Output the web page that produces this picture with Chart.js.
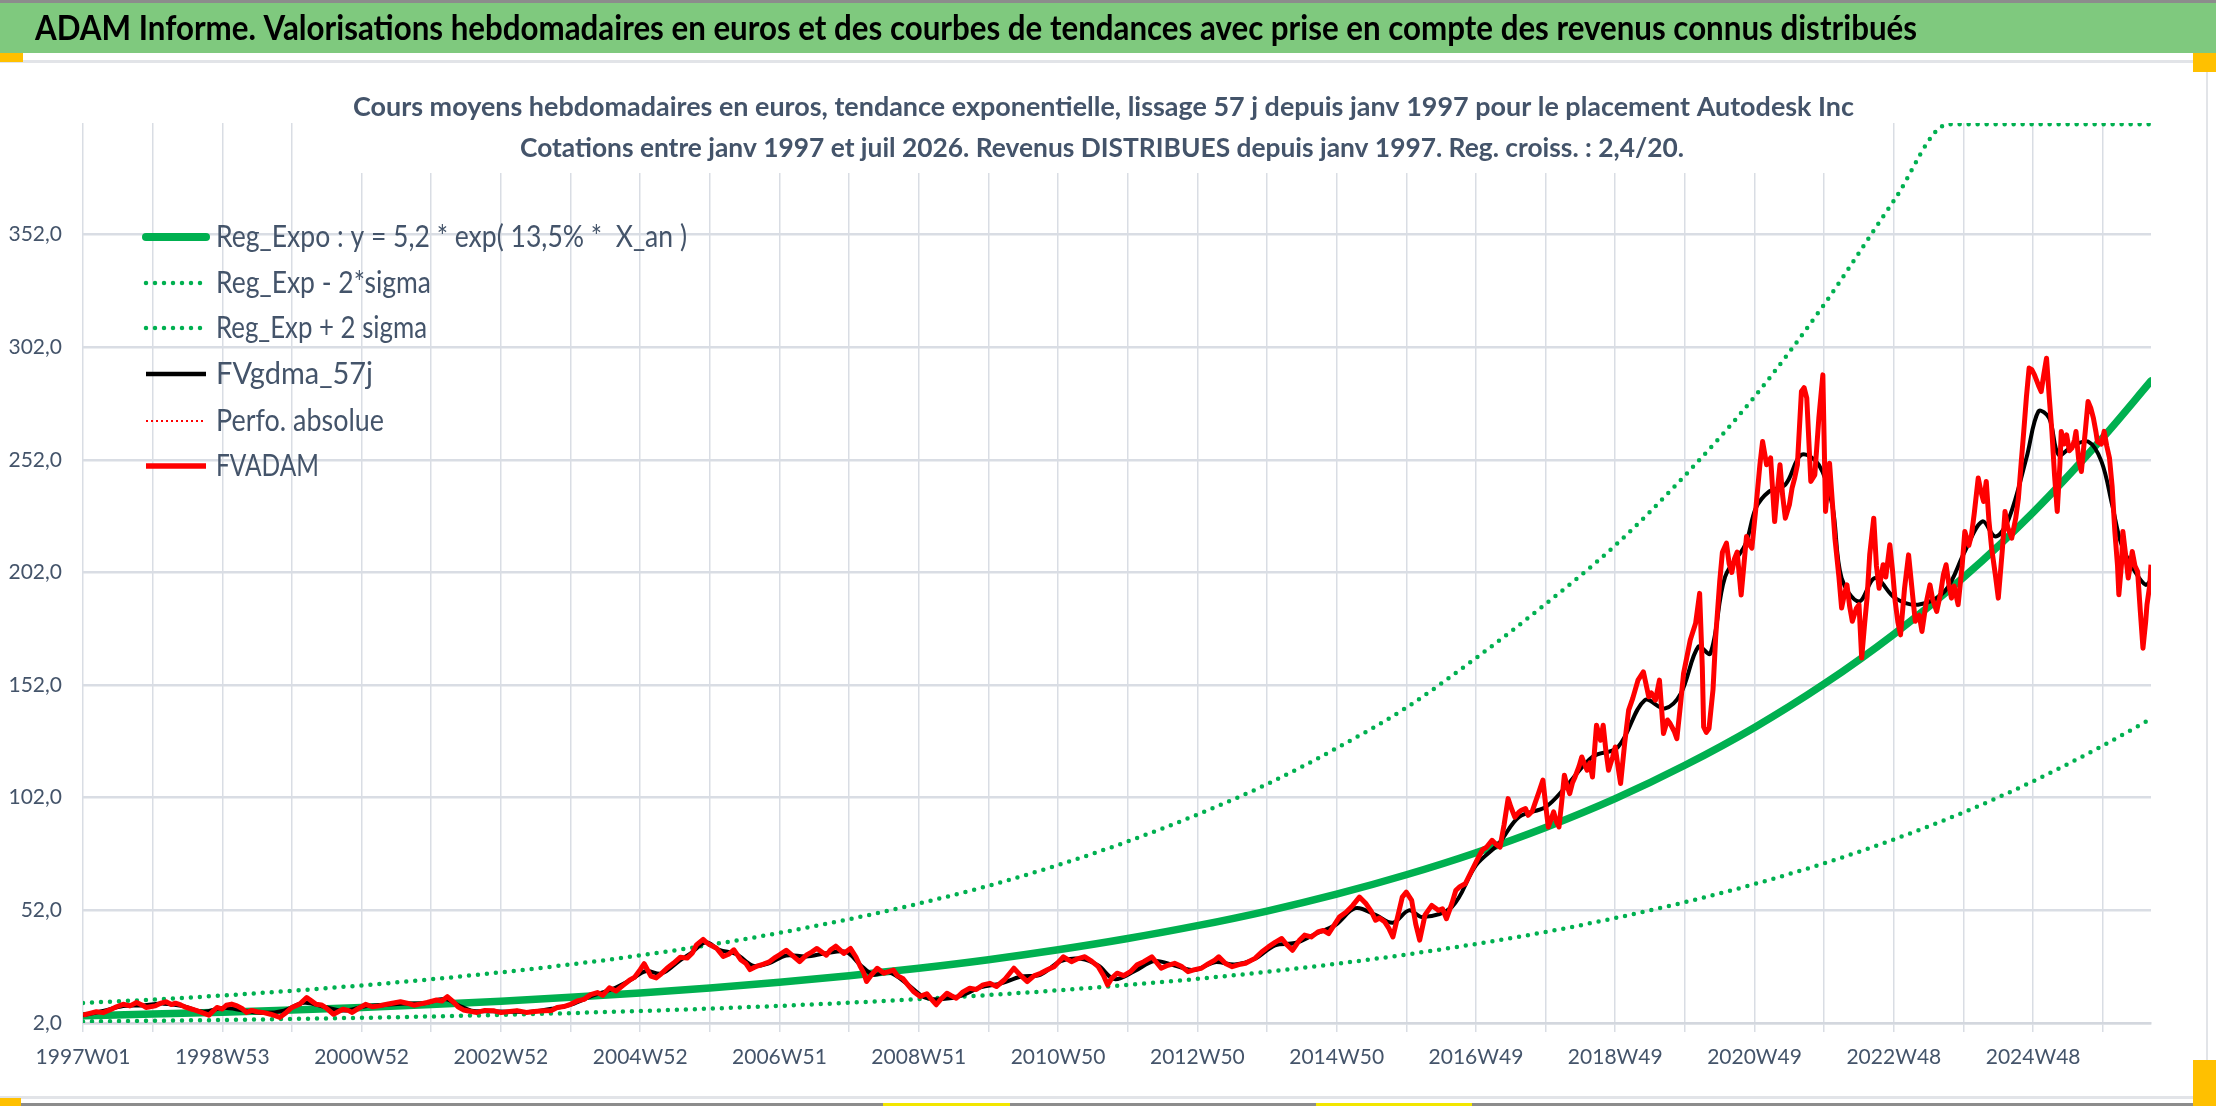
<!DOCTYPE html>
<html><head><meta charset="utf-8">
<script src="https://cdn.jsdelivr.net/npm/chart.js@4.4.1/dist/chart.umd.min.js"></script>
<style>html,body{margin:0;padding:0;background:#fff;overflow:hidden}canvas{display:block}</style>
</head><body>
<canvas id="c" width="2216" height="1106"></canvas>
<script>
// ---------- DATA ----------
const bannerTitle = "ADAM Informe. Valorisations hebdomadaires en euros et des courbes de tendances avec prise en compte des revenus connus distribués";
const subtitle1 = "Cours moyens hebdomadaires en euros, tendance exponentielle, lissage 57 j depuis janv 1997 pour le placement Autodesk Inc";
const subtitle2 = "Cotations entre janv 1997 et juil 2026. Revenus DISTRIBUES depuis janv 1997. Reg. croiss. : 2,4/20.";
const seriesNames = ["Reg_Expo : y = 5,2 * exp( 13,5% *  X_an )", "Reg_Exp - 2*sigma", "Reg_Exp + 2 sigma", "FVgdma_57j", "Perfo. absolue", "FVADAM"];

const xTickLabels = ["1997W01","1998W53","2000W52","2002W52","2004W52","2006W51","2008W51","2010W50","2012W50","2014W50","2016W49","2018W49","2020W49","2022W48","2024W48"];
const xGridWeeks = [0,52,104,156,208,260,312,364,416,468,520,572,624,676,728,780,832,884,936,988,1040,1092,1144,1196,1248,1300,1352,1404,1456,1508];
const lastWeek = 1544;
const yTickValues = [2,52,102,152,202,252,302,352];
const yMin = 2, yMax = 401.5;

const trendWeeks  = [0,52,104,156,208,260,312,364,416,468,520,572,624,676,728,780,832,884,936,988,1040,1092,1144,1196,1248,1300,1352,1404,1456,1508,1544];
const trendValues = [5.2,5.95,6.81,7.80,8.93,10.22,11.70,13.39,15.33,17.55,20.1,23.0,26.3,30.1,34.5,39.5,45.2,51.7,59.2,67.8,77.6,88.8,101.6,116.4,133.2,152.5,174.6,199.8,228.7,261.8,287.0];
const lowerValues = [2.7,3.0,3.35,3.8,4.3,4.9,5.6,6.4,7.33,8.39,9.61,11.0,12.6,14.4,16.5,18.9,21.6,24.7,28.3,32.4,37.1,42.4,48.6,55.6,63.7,72.9,83.5,95.5,109.3,125.1,137.0];
const upperPoints = [[0,10.9],[52,12.4],[104,14.2],[156,16.3],[208,18.7],[260,21.4],[312,24.5],[364,28.0],[416,32.0],[468,36.7],[520,42.0],[572,48.1],[624,55.0],[676,62.9],[728,72.1],[780,82.6],[832,94.5],[884,108],[936,124],[988,142],[1040,164],[1092,188],[1144,214],[1196,245],[1248,280],[1300,321],[1352,367],[1393,401],[1544,401]];

const fvgdmaPoints = [[0,5.5],[15,7.3],[30,9.5],[45,9.8],[60,10.6],[75,9.5],[90,7.0],[105,8.8],[120,7.5],[135,6.5],[150,7.5],[165,11.0],[180,9.2],[195,7.5],[210,9.3],[225,10.0],[240,10.6],[255,10.8],[270,12.6],[280,10.0],[290,7.5],[305,7.2],[320,7.0],[335,7.0],[350,8.3],[365,10.3],[380,14.0],[395,17.0],[410,21.5],[420,25.0],[432,24.0],[445,29.5],[455,33.5],[465,37.8],[475,34.5],[488,32.5],[500,27.5],[512,28.5],[525,32.0],[540,31.5],[555,33.0],[570,33.5],[580,28.0],[590,23.5],[602,24.5],[615,19.5],[628,13.5],[640,12.5],[655,14.0],[670,17.8],[685,19.5],[700,22.5],[715,23.5],[730,29.5],[745,30.5],[758,27.5],[770,21.5],[785,25.0],[800,29.5],[815,27.5],[830,25.5],[845,29.0],[860,28.0],[875,30.5],[890,36.5],[905,37.5],[920,41.5],[935,45.5],[950,53.0],[965,50.0],[978,46.5],[990,52.0],[1000,49.0],[1022,53.5],[1040,72.0],[1057,81.6],[1072,93.4],[1092,97.9],[1107,106.8],[1127,120.1],[1146,124.5],[1166,145.3],[1181,141.6],[1193,148.3],[1206,169],[1215,166],[1226,200],[1241,214.3],[1249,230.6],[1259,238],[1271,241],[1283,254.2],[1296,249.8],[1306,232],[1313,199.5],[1326,189.1],[1338,199.5],[1353,190.6],[1370,187.7],[1390,193.6],[1405,211.3],[1418,224.6],[1428,218],[1438,226.1],[1451,252.8],[1460,273.5],[1468,270.5],[1475,254.2],[1485,257.9],[1497,260.1],[1507,251.3],[1515,232],[1522,214.3],[1532,202.4],[1540,196.5],[1544,198.7]];

const fvadamPoints = [[0,5.5],[5,6.3],[10,7.0],[15,6.6],[20,7.8],[25,9.2],[30,10.3],[35,9.6],[40,11.1],[44,10.0],[47,8.9],[54,9.6],[58,10.8],[62,11.4],[66,10.2],[69,10.8],[73,10.0],[77,8.9],[82,8.0],[87,7.0],[94,5.5],[100,8.9],[104,8.2],[107,9.9],[111,10.4],[115,9.6],[119,8.3],[122,6.7],[126,7.6],[130,7.0],[135,6.6],[140,5.9],[147,4.5],[152,6.8],[156,8.9],[162,10.5],[167,13.3],[171,11.6],[174,10.3],[178,10.0],[181,8.9],[187,5.9],[194,8.1],[198,7.6],[201,6.7],[206,8.6],[211,10.3],[216,9.2],[221,9.6],[226,10.2],[231,10.8],[237,11.4],[242,10.8],[247,9.9],[252,10.5],[257,11.1],[264,12.2],[268,11.8],[272,13.7],[277,11.1],[280,9.2],[284,7.8],[289,7.2],[294,6.7],[300,7.6],[307,7.4],[312,6.6],[317,7.0],[324,7.5],[331,6.7],[337,7.1],[344,7.4],[350,7.6],[354,8.9],[359,9.3],[364,10.3],[369,11.8],[374,12.5],[379,14.6],[384,15.5],[388,14.3],[393,17.6],[398,16.2],[403,18.6],[408,21.0],[412,22.4],[416,25.7],[419,28.3],[424,22.8],[428,22.0],[431,23.5],[436,26.3],[441,28.6],[446,31.2],[451,30.8],[455,33.1],[458,36.7],[463,39.1],[466,37.5],[468,36.7],[473,35.2],[476,33.0],[478,31.5],[482,32.5],[486,34.5],[491,30.1],[495,28.4],[498,25.7],[501,26.6],[504,27.4],[508,28.1],[512,29.0],[516,30.8],[520,32.3],[525,34.3],[530,31.8],[535,29.2],[540,32.1],[544,33.5],[548,35.1],[555,32.1],[558,34.4],[562,36.1],[568,32.9],[573,35.1],[577,31.4],[580,27.5],[583,24.1],[585,20.4],[589,23.6],[593,26.3],[598,24.1],[605,25.5],[608,23.0],[612,21.8],[616,18.8],[620,16.0],[625,13.8],[630,15.0],[634,12.2],[637,10.1],[641,12.9],[645,15.2],[648,14.2],[652,13.0],[657,15.8],[662,17.4],[667,16.9],[672,18.9],[677,19.6],[682,18.2],[688,21.2],[695,26.3],[700,23.1],[705,20.4],[710,22.9],[715,24.1],[720,25.6],[725,27.0],[732,31.4],[738,29.2],[743,30.6],[748,31.4],[753,29.5],[758,27.0],[762,23.0],[765,18.9],[768,21.8],[772,24.1],[777,23.0],[782,24.8],[787,27.8],[792,29.2],[798,31.4],[805,26.3],[810,27.6],[815,28.5],[820,27.2],[825,24.8],[830,25.7],[835,26.3],[840,28.2],[845,29.9],[848,31.4],[853,28.4],[858,27.0],[863,27.9],[868,28.5],[875,30.7],[880,33.5],[885,35.8],[890,37.8],[895,39.5],[899,36.6],[903,34.3],[908,38.6],[912,41.0],[917,40.2],[922,42.4],[926,43.1],[930,41.7],[934,45.3],[938,49.0],[943,51.2],[948,54.2],[953,57.9],[958,54.9],[962,51.4],[965,47.6],[968,48.6],[972,46.8],[975,44.0],[978,40.2],[982,50.3],[985,57.9],[988,60.1],[992,56.4],[995,46.0],[998,38.8],[1002,50.0],[1007,54.2],[1012,52.0],[1015,52.7],[1018,48.3],[1022,55.0],[1025,60.9],[1028,62.5],[1032,63.8],[1037,69.8],[1042,75.7],[1045,79.0],[1048,80.1],[1052,83.1],[1055,81.3],[1058,80.1],[1061,90.0],[1064,101.6],[1066,98.0],[1069,93.4],[1072,95.5],[1074,96.4],[1077,97.2],[1079,94.2],[1082,96.0],[1084,99.4],[1087,104.5],[1090,109.8],[1092,99.0],[1094,89.0],[1096,92.3],[1098,95.7],[1100,91.5],[1102,89.0],[1104,100.0],[1106,112.0],[1108,107.3],[1110,103.8],[1112,108.5],[1114,111.2],[1117,116.0],[1119,120.1],[1121,117.0],[1123,114.2],[1125,117.5],[1127,111.2],[1130,134.2],[1133,127.5],[1135,134.2],[1137,123.0],[1139,114.2],[1142,120.0],[1144,124.5],[1146,116.0],[1148,108.3],[1151,126.0],[1154,140.9],[1157,146.0],[1161,154.2],[1165,157.9],[1169,146.8],[1171,148.5],[1174,145.3],[1177,154.2],[1180,130.5],[1183,136.5],[1185,134.9],[1188,131.5],[1190,128.2],[1193,145.0],[1195,157.1],[1198,166.0],[1200,172.0],[1204,179.4],[1207,192.7],[1209,160.0],[1210,133.4],[1212,131.0],[1214,132.7],[1217,150.0],[1219,173.5],[1222,198.0],[1224,211.0],[1227,215.0],[1229,206.0],[1231,202.0],[1233,208.0],[1235,211.0],[1238,192.0],[1240,205.0],[1242,218.0],[1244,214.5],[1246,212.8],[1249,230.6],[1252,249.8],[1254,260.1],[1257,249.8],[1260,252.8],[1263,224.6],[1265,238.0],[1267,249.8],[1269,236.0],[1271,226.1],[1274,232.0],[1276,239.4],[1278,244.0],[1280,249.8],[1283,282.3],[1285,284.0],[1287,279.4],[1290,242.4],[1293,245.3],[1296,270.5],[1299,289.7],[1301,229.1],[1304,250.5],[1306,234.0],[1308,217.2],[1311,200.0],[1313,186.2],[1315,192.0],[1317,196.5],[1319,187.0],[1321,180.3],[1324,186.0],[1326,187.7],[1328,164.0],[1330,178.0],[1332,190.6],[1334,210.0],[1337,226.1],[1339,205.0],[1341,195.0],[1344,205.4],[1346,200.0],[1349,214.3],[1351,203.0],[1353,189.1],[1355,180.0],[1357,174.3],[1360,195.0],[1363,209.8],[1366,192.0],[1368,180.3],[1371,183.0],[1373,175.8],[1376,188.0],[1379,196.5],[1381,190.0],[1384,184.7],[1387,193.0],[1389,201.0],[1391,205.4],[1393,197.0],[1395,190.6],[1397,196.0],[1400,187.7],[1403,205.0],[1405,220.2],[1408,214.0],[1410,218.7],[1412,228.0],[1415,243.9],[1417,238.0],[1419,233.5],[1421,242.4],[1423,225.0],[1425,212.8],[1428,200.0],[1430,190.6],[1433,212.0],[1435,229.1],[1437,222.0],[1440,217.2],[1443,226.0],[1445,235.0],[1447,250.0],[1449,264.6],[1451,280.0],[1453,292.7],[1455,292.0],[1457,289.7],[1460,285.0],[1462,282.3],[1464,290.0],[1466,297.1],[1468,280.0],[1470,264.6],[1472,245.0],[1474,229.1],[1476,250.0],[1477,264.6],[1479,259.0],[1481,263.1],[1483,256.0],[1485,257.2],[1487,261.0],[1488,264.6],[1490,252.0],[1492,246.8],[1495,265.0],[1497,277.9],[1499,275.0],[1501,270.5],[1503,264.0],[1504,260.1],[1507,259.0],[1509,264.6],[1511,258.0],[1513,252.8],[1515,240.0],[1517,220.2],[1519,205.0],[1520,192.1],[1522,206.0],[1523,220.2],[1525,210.0],[1527,199.5],[1529,207.0],[1530,211.3],[1532,205.0],[1534,202.4],[1536,185.0],[1538,168.4],[1540,180.0],[1541,187.7],[1543,196.0],[1544,205.4]];
const perfoPoints = [];

// ---------- STYLE ----------
const GREEN = '#00B050', RED = '#FF0000', BLACK = '#000000';
const TEXT = '#44546A', GRID = '#D9DDE4';
const FAMQ = 'Lato, "DejaVu Sans", "Liberation Sans", sans-serif';

function fitText(ctx, text, x, yc, font, color, targetW){
  ctx.save();
  ctx.font = font; ctx.fillStyle = color; ctx.textBaseline = 'middle'; ctx.textAlign = 'left';
  const w = ctx.measureText(text).width;
  ctx.translate(x, yc); ctx.scale(targetW / w, 1);
  ctx.fillText(text, 0, 0);
  ctx.restore();
}

const toXY = (pairs) => pairs.map(p => ({x: p[0], y: p[1]}));
const zipXY = (xs, ys) => xs.map((x, i) => ({x: x, y: ys[i]}));

const DOT = [0, 9];

const framePlugin = {
  id: 'frame',
  beforeDraw(chart){
    const ctx = chart.ctx, W = chart.width, H = chart.height;
    ctx.save();
    ctx.fillStyle = '#FFFFFF'; ctx.fillRect(0, 0, W, H);
    ctx.fillStyle = '#8C8C8C'; ctx.fillRect(0, 0, W, 3);
    ctx.fillStyle = '#7FC97E'; ctx.fillRect(0, 3, W, 50);
    ctx.fillStyle = '#E2E4E8'; ctx.fillRect(0, 60, W, 3);
    ctx.fillStyle = '#E2E4E8'; ctx.fillRect(W - 10, 62, 2, H - 68);
    ctx.fillStyle = '#E2E4E8'; ctx.fillRect(0, 1096, W, 3);
    ctx.fillStyle = '#8C8C8C'; ctx.fillRect(0, 1103, W, 3);
    ctx.fillStyle = '#FFC000';
    ctx.fillRect(0, 53, 23, 9);
    ctx.fillRect(W - 23, 53, 23, 19);
    ctx.fillRect(0, 1098, 21, 8);
    ctx.fillRect(W - 23, 1060, 23, 46);
    ctx.fillStyle = '#F2E600';
    ctx.fillRect(883, 1103, 127, 3);
    ctx.fillRect(1316, 1103, 156, 3);
    ctx.restore();
    fitText(ctx, bannerTitle, 35, 29, 'bold 35px ' + FAMQ, '#000000', 1882);
  },
  beforeDatasetsDraw(chart){
    const ctx = chart.ctx;
    ctx.save();
    ctx.fillStyle = '#FFFFFF';
    ctx.fillRect(335, 63, 1540, 110);
    ctx.restore();
    fitText(ctx, subtitle1, 353, 107, 'bold 27px ' + FAMQ, TEXT, 1501);
    fitText(ctx, subtitle2, 520, 148, 'bold 27px ' + FAMQ, TEXT, 1164);
  },
  afterDatasetsDraw(chart){
    const ctx = chart.ctx;
    const rows = [237, 283, 328, 374, 421, 466];
    const widths = [471, 215, 211, 157, 168, 103];
    [0, 1, 2, 3, 4, 5].forEach((di, r) => {
      const ds = chart.data.datasets[di];
      const y = rows[r];
      ctx.save();
      ctx.strokeStyle = ds.borderColor;
      ctx.lineWidth = ds.legendWidth || ds.borderWidth;
      ctx.lineCap = ds.borderCapStyle || 'butt';
      ctx.setLineDash(ds.borderDash || []);
      ctx.beginPath(); ctx.moveTo(146, y); ctx.lineTo(206, y); ctx.stroke();
      ctx.restore();
      fitText(ctx, ds.label, 216, y, '30px ' + FAMQ, TEXT, widths[r]);
    });
  }
};

new Chart(document.getElementById('c'), {
  type: 'line',
  data: {
    datasets: [
      { label: seriesNames[0], data: zipXY(trendWeeks, trendValues), borderColor: GREEN, borderWidth: 7.5, legendWidth: 8, borderCapStyle: 'round', cubicInterpolationMode: 'monotone', order: 3 },
      { label: seriesNames[1], data: zipXY(trendWeeks, lowerValues), borderColor: GREEN, borderWidth: 4.5, borderDash: DOT, borderCapStyle: 'round', cubicInterpolationMode: 'monotone', order: 4 },
      { label: seriesNames[2], data: toXY(upperPoints), borderColor: GREEN, borderWidth: 4.5, borderDash: DOT, borderCapStyle: 'round', cubicInterpolationMode: 'monotone', order: 4 },
      { label: seriesNames[3], data: toXY(fvgdmaPoints), borderColor: BLACK, borderWidth: 4, legendWidth: 4.5, tension: 0.35, order: 2 },
      { label: seriesNames[4], data: toXY(perfoPoints), borderColor: RED, borderWidth: 2.2, borderDash: [2, 3], order: 5 },
      { label: seriesNames[5], data: toXY(fvadamPoints), borderColor: RED, borderWidth: 5, legendWidth: 5.5, borderJoinStyle: 'round', tension: 0, order: 1 }
    ]
  },
  options: {
    responsive: false, animation: false, devicePixelRatio: 1,
    layout: { padding: { left: 0, top: 123, right: 65, bottom: 0 } },
    elements: { point: { radius: 0 }, line: { fill: false } },
    plugins: { legend: { display: false }, title: { display: false }, tooltip: { enabled: false } },
    scales: {
      x: {
        type: 'linear', min: 0, max: lastWeek,
        afterBuildTicks: (s) => { s.ticks = xGridWeeks.map(v => ({ value: v })); },
        afterFit: (s) => { s.height = 83; },
        ticks: { autoSkip: false, maxRotation: 0, minRotation: 0, padding: 13,
          callback: (v) => (v % 104 === 0 ? xTickLabels[v / 104] : ''),
          font: { family: FAMQ, size: 21 }, color: TEXT },
        grid: { color: GRID, lineWidth: 1.5, drawTicks: true, tickLength: 9, tickColor: GRID },
        border: { display: true, color: '#D3D7DE', width: 2.5 }
      },
      y: {
        min: yMin, max: yMax,
        afterBuildTicks: (s) => { s.ticks = yTickValues.map(v => ({ value: v })); },
        afterFit: (s) => { s.width = 83; },
        ticks: { padding: 21, callback: (v) => v.toFixed(1).replace('.', ','),
          font: { family: FAMQ, size: 21 }, color: TEXT },
        grid: { color: GRID, lineWidth: 2.5, drawTicks: false },
        border: { display: false }
      }
    }
  },
  plugins: [framePlugin]
});
</script>
</body></html>
